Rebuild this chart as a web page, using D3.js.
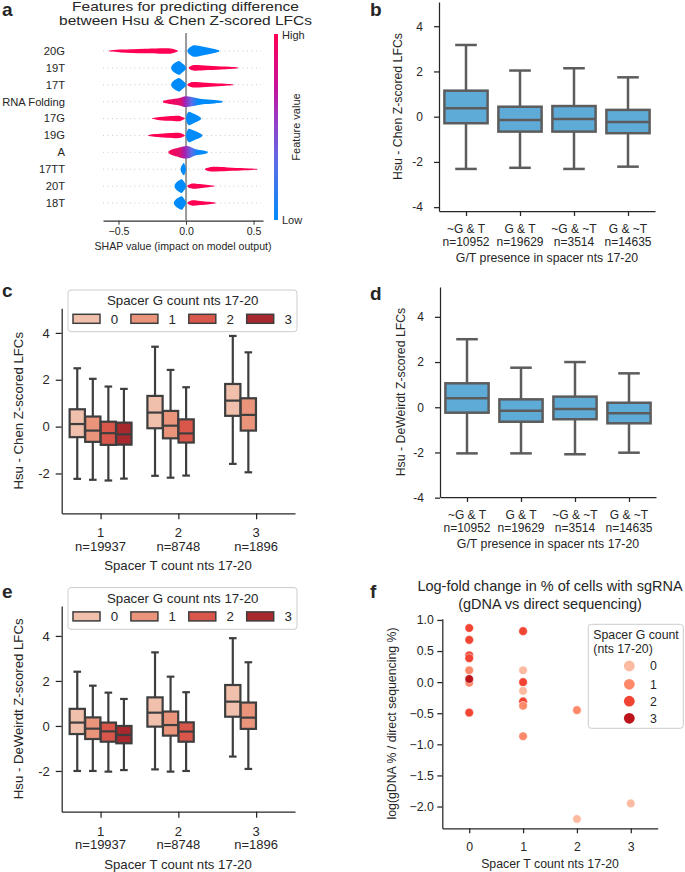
<!DOCTYPE html>
<html><head><meta charset="utf-8">
<script src="https://cdn.jsdelivr.net/npm/d3@7"></script>
<style>
body{margin:0;background:#fff}
svg{display:block}
text{font-family:"Liberation Sans",Arial,Helvetica,sans-serif;fill:#262626}
</style>
</head><body>
<svg id="fig" width="685" height="872"></svg>
<script>
// ================= DATA =================
// Panel a: SHAP summary (per feature: extent of high-value (red) and low-value (blue) clusters)
const shapFeatures = ["20G","19T","17T","RNA Folding","17G","19G","A","17TT","20T","18T"];
const highLo   = [-0.57, 0.02, 0.01, -0.17, -0.25, -0.28, -0.13, 0.14, 0.01, 0.01];
const highPeak = [-0.12, 0.06, 0.05, -0.04, -0.05, -0.05, -0.05, 0.20, 0.05, 0.05];
const highHi   = [-0.06, 0.385, 0.35, 0.01, -0.01, -0.01, 0.00, 0.53, 0.21, 0.22];
const highDens = [0.42, 0.42, 0.40, 0.55, 0.40, 0.40, 0.75, 0.35, 0.40, 0.40];
const lowLo    = [0.01, -0.11, -0.11, -0.03, 0.00, 0.00, -0.02, -0.04, -0.085, -0.09];
const lowPeak  = [0.06, -0.05, -0.05, 0.02, 0.02, 0.02, 0.02, -0.015, -0.03, -0.03];
const lowHi    = [0.245, 0.00, 0.00, 0.27, 0.11, 0.12, 0.16, 0.00, 0.00, 0.00];
const lowDens  = [0.85, 1.0, 1.0, 0.8, 1.0, 1.0, 0.9, 0.9, 1.0, 1.0];
const mixedFeatures = ["RNA Folding","A"];
const shapTicks = [-0.5, 0, 0.5];

// Panel b: Hsu - Chen by G/T presence
const gtCats   = ["~G & T","G & T","~G & ~T","G & ~T"];
const gtCounts = ["n=10952","n=19629","n=3514","n=14635"];
const bLo  = [-2.31, -2.26, -2.31, -2.21];
const bQ1  = [-0.29, -0.66, -0.66, -0.73];
const bMed = [0.37, -0.15, -0.10, -0.23];
const bQ3  = [1.15, 0.44, 0.47, 0.30];
const bHi  = [3.17, 2.04, 2.14, 1.74];

// Panel d: Hsu - DeWeirdt by G/T presence
const dLo  = [-2.04, -2.04, -2.08, -2.01];
const dQ1  = [-0.24, -0.64, -0.53, -0.71];
const dMed = [0.40, -0.15, -0.08, -0.27];
const dQ3  = [1.06, 0.35, 0.47, 0.20];
const dHi  = [3.01, 1.75, 2.00, 1.50];

// Panels c & e: by T count (group) and G count (hue)
const tCats   = ["1","2","3"];
const tCounts = ["n=19937","n=8748","n=1896"];
const gLevels = ["0","1","2","3"];
const ceGroup = [0,0,0,0, 1,1,1, 2,2];
const ceHue   = [0,1,2,3, 0,1,2, 0,1];
const cLo  = [-2.23,-2.27,-2.30,-2.22, -2.10,-2.18,-2.09, -1.59,-1.95];
const cQ1  = [-0.45,-0.65,-0.78,-0.77, -0.07,-0.50,-0.68, 0.46,-0.17];
const cMed = [0.11,-0.17,-0.28,-0.33, 0.60,0.04,-0.29, 1.11,0.50];
const cQ3  = [0.74,0.43,0.21,0.17, 1.31,0.67,0.31, 1.82,1.21];
const cHi  = [2.49,2.04,1.71,1.61, 3.41,2.42,1.68, 3.87,3.17];
const eLo  = [-2.00,-2.00,-2.03,-1.96, -1.93,-2.03,-2.00, -1.36,-1.91];
const eQ1  = [-0.36,-0.58,-0.70,-0.77, -0.03,-0.43,-0.70, 0.41,-0.13];
const eMed = [0.15,-0.12,-0.24,-0.40, 0.59,0.04,-0.25, 1.08,0.37];
const eQ3  = [0.76,0.38,0.15,0.00, 1.27,0.64,0.16, 1.82,1.04];
const eHi  = [2.41,1.79,1.48,1.20, 3.27,2.19,1.50, 3.90,2.83];

// Panel f: scatter
const fT   = [0,0,0,0,0,0,0,0,  1,1,1,1,1,1,1,  2,2, 3];
const fG   = [2,2,2,2,1,1,3,2,  2,0,2,0,2,1,1,  1,0, 0];
const fVal = [0.87,0.68,0.43,0.385,0.19,-0.01,0.05,-0.49,
              0.82,0.19,0.00,-0.14,-0.31,-0.38,-0.87,
              -0.45,-2.20, -1.95];
const fTicksY = [-2.0,-1.5,-1.0,-0.5,0.0,0.5,1.0];
const fTicksX = [0,1,2,3];

// ================= STYLE =================
const INK = "#262626";
const SHAP_RED = "#ff0052", SHAP_BLUE = "#008bfb", SHAP_PURPLE = "#8c45cc";
const BLUE_BOX = "#5fabd8";
const REDS_BOX = ["#f1c0ac","#ea947c","#d9574a","#a7292e"];
const REDS_PT  = ["#fcbba1","#fc8a6a","#f14432","#bc141a"];
const GRAY_BD = "#5c5c5c", GRAY_CE = "#3e3e3e";

const svg = d3.select("#fig");
const defs = svg.append("defs");

function styleAxis(g, fs){
  g.attr("font-family",null).attr("font-size",null);
  g.select(".domain").attr("stroke",INK).attr("stroke-width",1.25);
  g.selectAll(".tick line").attr("stroke",INK).attr("stroke-width",1.25);
  g.selectAll(".tick text").attr("fill",INK).style("font-size",fs+"px");
}
const hy = d => d < 0 ? "-" + Math.abs(d) : String(d);

function panelLabel(t, x, y){
  svg.append("text").attr("x",x).attr("y",y).text(t)
    .style("font-size","19px").style("font-weight","bold").attr("fill","#000");
}

// ================= PANEL A =================
(function(){
  const g = svg.append("g");
  const xa = d3.scaleLinear().domain([-0.615, 0.57]).range([103, 263]);
  const ya = d3.scalePoint().domain(shapFeatures).range([51, 203]);
  const HMAX = 7.5;
  // title (horizontally stretched as in the source figure)
  g.append("text").attr("transform","translate(185.5,11.2) scale(1.25,1)").attr("text-anchor","middle")
    .style("font-size","12.4px").text("Features for predicting difference");
  g.append("text").attr("transform","translate(185.5,25.4) scale(1.25,1)").attr("text-anchor","middle")
    .style("font-size","12.4px").text("between Hsu & Chen Z-scored LFCs");
  // dotted row guides
  g.selectAll("line.guide").data(shapFeatures).join("line")
    .attr("x1",103).attr("x2",261).attr("y1",d=>ya(d)).attr("y2",d=>ya(d))
    .attr("stroke","#cccccc").attr("stroke-width",1).attr("stroke-dasharray","1,3.5");
  // zero line
  g.append("line").attr("x1",xa(0)).attr("x2",xa(0)).attr("y1",33).attr("y2",220)
    .attr("stroke","#999").attr("stroke-width",2);
  const area = d3.area().x(d=>xa(d[0])).curve(d3.curveBasis);
  function prof(lo, pk, hi){
    return [[lo,0.12],[lo+0.15*(pk-lo),0.45],[lo+0.6*(pk-lo),0.75],[pk,1],
            [pk+0.3*(hi-pk),0.7],[pk+0.75*(hi-pk),0.4],[hi,0.12]];
  }
  shapFeatures.forEach((f,i)=>{
    const cy = ya(f);
    if (mixedFeatures.includes(f)) {
      const gid = "mix"+i;
      const lg = defs.append("linearGradient").attr("id",gid)
        .attr("gradientUnits","userSpaceOnUse").attr("x1",xa(highLo[i])).attr("x2",xa(lowHi[i])).attr("y1",0).attr("y2",0);
      const span = lowHi[i]-highLo[i];
      const off = v => Math.max(0,Math.min(1,(v-highLo[i])/span));
      lg.append("stop").attr("offset",0).attr("stop-color",SHAP_RED);
      lg.append("stop").attr("offset",off(highPeak[i])).attr("stop-color","#e0106e");
      lg.append("stop").attr("offset",off((highHi[i]+lowLo[i])/2)).attr("stop-color","#a61fb0");
      lg.append("stop").attr("offset",off(lowPeak[i]+0.02)).attr("stop-color","#5a6ee8");
      lg.append("stop").attr("offset",off(lowPeak[i]+0.07)).attr("stop-color",SHAP_BLUE);
      lg.append("stop").attr("offset",1).attr("stop-color",SHAP_BLUE);
      const pk = (highHi[i]+lowLo[i])/2;
      const pts = [[highLo[i],0.12*HMAX],[highLo[i]+0.3*(highPeak[i]-highLo[i]),highDens[i]*0.55*HMAX],
        [highPeak[i],highDens[i]*0.85*HMAX],[pk,Math.max(highDens[i],lowDens[i])*HMAX],
        [lowPeak[i]+0.02,lowDens[i]*0.8*HMAX],[lowPeak[i]+0.35*(lowHi[i]-lowPeak[i]),lowDens[i]*0.4*HMAX],
        [lowPeak[i]+0.8*(lowHi[i]-lowPeak[i]),0.25*HMAX],[lowHi[i],0.1*HMAX]];
      g.append("path").attr("d",area.y0(d=>cy-d[1]).y1(d=>cy+d[1])(pts)).attr("fill",`url(#${gid})`);
    } else {
      const hp = prof(highLo[i],highPeak[i],highHi[i]);
      g.append("path").attr("d",area.y0(d=>cy-d[1]*highDens[i]*HMAX).y1(d=>cy+d[1]*highDens[i]*HMAX)(hp))
        .attr("fill",SHAP_RED);
      const lp = prof(lowLo[i],lowPeak[i],lowHi[i]);
      g.append("path").attr("d",area.y0(d=>cy-d[1]*lowDens[i]*HMAX).y1(d=>cy+d[1]*lowDens[i]*HMAX)(lp))
        .attr("fill",SHAP_BLUE);
    }
  });
  // feature labels
  g.selectAll("text.feat").data(shapFeatures).join("text")
    .attr("x",65).attr("y",d=>ya(d)).attr("dy","0.35em").attr("text-anchor","end")
    .style("font-size","11.2px").attr("fill","#333").text(d=>d);
  // x axis
  const ax = g.append("g").attr("transform","translate(0,220.7)")
    .call(d3.axisBottom(xa).tickValues(shapTicks).tickFormat(d3.format(".1f")).tickSize(4).tickPadding(3).tickSizeOuter(0));
  ax.attr("font-family",null).attr("font-size",null);
  ax.select(".domain").attr("stroke","#333").attr("stroke-width",1.2);
  ax.selectAll(".tick line").attr("stroke","#333");
  ax.selectAll(".tick text").style("font-size","10.6px").attr("fill","#333");
  g.append("text").attr("x",183).attr("y",250).attr("text-anchor","middle")
    .style("font-size","10.6px").attr("fill","#333").text("SHAP value (impact on model output)");
  // colorbar
  const cg = defs.append("linearGradient").attr("id","cbar").attr("x1",0).attr("x2",0).attr("y1",1).attr("y2",0);
  [[0,SHAP_BLUE],[0.3,"#5a6ee8"],[0.5,SHAP_PURPLE],[0.72,"#c8109a"],[1,SHAP_RED]].forEach(s=>
    cg.append("stop").attr("offset",s[0]).attr("stop-color",s[1]));
  g.append("rect").attr("x",274).attr("y",34).attr("width",4).attr("height",186).attr("fill","url(#cbar)");
  g.append("text").attr("x",282).attr("y",39).style("font-size","11px").attr("fill","#333").text("High");
  g.append("text").attr("x",282).attr("y",224).style("font-size","11px").attr("fill","#333").text("Low");
  g.append("text").attr("transform","translate(296,127) rotate(-90)").attr("text-anchor","middle")
    .attr("dy","0.35em").style("font-size","11px").attr("fill","#333").text("Feature value");
})();
panelLabel("a", 2, 16);

// ================= BOX HELPERS =================
function drawBoxes(g, x, y, recs, w, stroke, lw){
  const s = g.selectAll(null).data(recs).join("g");
  s.append("line").attr("x1",d=>x(d.pos)).attr("x2",d=>x(d.pos)).attr("y1",d=>y(d.q1)).attr("y2",d=>y(d.lo))
    .attr("stroke",stroke).attr("stroke-width",lw);
  s.append("line").attr("x1",d=>x(d.pos)).attr("x2",d=>x(d.pos)).attr("y1",d=>y(d.q3)).attr("y2",d=>y(d.hi))
    .attr("stroke",stroke).attr("stroke-width",lw);
  s.append("line").attr("x1",d=>x(d.pos-w/4)).attr("x2",d=>x(d.pos+w/4)).attr("y1",d=>y(d.lo)).attr("y2",d=>y(d.lo))
    .attr("stroke",stroke).attr("stroke-width",lw);
  s.append("line").attr("x1",d=>x(d.pos-w/4)).attr("x2",d=>x(d.pos+w/4)).attr("y1",d=>y(d.hi)).attr("y2",d=>y(d.hi))
    .attr("stroke",stroke).attr("stroke-width",lw);
  s.append("rect").attr("x",d=>x(d.pos-w/2)).attr("width",d=>x(d.pos+w/2)-x(d.pos-w/2))
    .attr("y",d=>y(d.q3)).attr("height",d=>y(d.q1)-y(d.q3))
    .attr("fill",d=>d.color).attr("stroke",stroke).attr("stroke-width",lw);
  s.append("line").attr("x1",d=>x(d.pos-w/2)).attr("x2",d=>x(d.pos+w/2)).attr("y1",d=>y(d.med)).attr("y2",d=>y(d.med))
    .attr("stroke",stroke).attr("stroke-width",lw);
}

function gtPanel(cfg){
  const g = svg.append("g");
  const x = d3.scaleLinear().domain([-0.5,3.5]).range([cfg.x0, cfg.x1]);
  const y = d3.scaleLinear().domain(cfg.ydom).range([cfg.yb, cfg.yt]);
  const recs = gtCats.map((c,i)=>({pos:i, lo:cfg.lo[i], q1:cfg.q1[i], med:cfg.med[i], q3:cfg.q3[i], hi:cfg.hi[i], color:BLUE_BOX}));
  drawBoxes(g, x, y, recs, 0.8, GRAY_BD, 2.5);
  const ya = g.append("g").attr("transform",`translate(${cfg.x0},0)`)
    .call(d3.axisLeft(y).tickValues([-4,-2,0,2,4]).tickFormat(hy).tickSize(5).tickPadding(11).tickSizeOuter(0));
  styleAxis(ya, 12);
  const xa = g.append("g").attr("transform",`translate(0,${cfg.yb})`)
    .call(d3.axisBottom(x).tickValues([0,1,2,3]).tickFormat("").tickSize(5).tickSizeOuter(0));
  styleAxis(xa, 12);
  gtCats.forEach((c,i)=>{
    g.append("text").attr("x",x(i)).attr("y",cfg.yb+22).attr("text-anchor","middle").style("font-size","12px").text(c);
    g.append("text").attr("x",x(i)).attr("y",cfg.yb+35).attr("text-anchor","middle").style("font-size","12px").text(gtCounts[i]);
  });
  g.append("text").attr("x",(cfg.x0+cfg.x1)/2).attr("y",cfg.yb+51).attr("text-anchor","middle")
    .style("font-size","12.3px").text("G/T presence in spacer nts 17-20");
  g.append("text").attr("transform",`translate(${cfg.ylx},${(cfg.yb+cfg.yt)/2}) rotate(-90)`)
    .attr("text-anchor","middle").attr("dy","0.35em").style("font-size","12.3px").text(cfg.ylabel);
}

gtPanel({x0:439, x1:655, yb:211, yt:2, ydom:[-4.17,5.07], lo:bLo,q1:bQ1,med:bMed,q3:bQ3,hi:bHi,
  ylx:398, ylabel:"Hsu - Chen Z-scored LFCs"});
gtPanel({x0:440, x1:656, yb:497, yt:287, ydom:[-3.97,5.32], lo:dLo,q1:dQ1,med:dMed,q3:dQ3,hi:dHi,
  ylx:400.5, ylabel:"Hsu - DeWeirdt Z-scored LFCs"});
panelLabel("b", 370, 16);
panelLabel("d", 370, 300);

function tgPanel(cfg){
  const g = svg.append("g");
  const x = d3.scaleLinear().domain([-0.5,2.5]).range([61.7, 295]);
  const y = d3.scaleLinear().domain(cfg.ydom).range([cfg.yb, cfg.yt]);
  const w = 0.196;
  const recs = ceGroup.map((gi,k)=>({pos: gi + (ceHue[k]-1.5)*0.2, lo:cfg.lo[k], q1:cfg.q1[k], med:cfg.med[k],
    q3:cfg.q3[k], hi:cfg.hi[k], color:REDS_BOX[ceHue[k]]}));
  drawBoxes(g, x, y, recs, w, GRAY_CE, 2.2);
  const ya = g.append("g").attr("transform",`translate(61.7,0)`)
    .call(d3.axisLeft(y).tickValues([-2,0,2,4]).tickFormat(hy).tickSize(6).tickPadding(6).tickSizeOuter(0));
  styleAxis(ya, 13);
  const xa = g.append("g").attr("transform",`translate(0,${cfg.yb})`)
    .call(d3.axisBottom(x).tickValues([0,1,2]).tickFormat("").tickSize(6).tickSizeOuter(0));
  styleAxis(xa, 13);
  tCats.forEach((c,i)=>{
    g.append("text").attr("x",x(i)).attr("y",cfg.yb+24).attr("text-anchor","middle").style("font-size","13px").text(c);
    g.append("text").attr("x",x(i)).attr("y",cfg.yb+37.5).attr("text-anchor","middle").style("font-size","13px").text(tCounts[i]);
  });
  g.append("text").attr("x",178).attr("y",cfg.yb+57).attr("text-anchor","middle")
    .style("font-size","13.2px").text("Spacer T count nts 17-20");
  g.append("text").attr("transform",`translate(18,${(cfg.yb+cfg.yt)/2}) rotate(-90)`)
    .attr("text-anchor","middle").attr("dy","0.35em").style("font-size","13.2px").text(cfg.ylabel);
  // legend
  const L = cfg.leg;
  g.append("rect").attr("x",68).attr("y",L).attr("width",229).attr("height",41.7).attr("rx",3)
    .attr("fill","#fff").attr("fill-opacity",0.8).attr("stroke","#cccccc").attr("stroke-width",1);
  g.append("text").attr("x",182.7).attr("y",L+15.3).attr("text-anchor","middle").style("font-size","13.3px")
    .text("Spacer G count nts 17-20");
  gLevels.forEach((lv,i)=>{
    const px = 73 + i*57.9;
    g.append("rect").attr("x",px).attr("y",L+24.3).attr("width",27).attr("height",9)
      .attr("fill",REDS_BOX[i]).attr("stroke",GRAY_CE).attr("stroke-width",1.5);
    g.append("text").attr("x",px+37.7).attr("y",L+33.5).style("font-size","13.3px").text(lv);
  });
}
tgPanel({yb:513.3, yt:308.3, ydom:[-3.70,5.05], lo:cLo,q1:cQ1,med:cMed,q3:cQ3,hi:cHi,
  ylabel:"Hsu - Chen Z-scored LFCs", leg:290});
tgPanel({yb:811.7, yt:606, ydom:[-3.81,5.33], lo:eLo,q1:eQ1,med:eMed,q3:eQ3,hi:eHi,
  ylabel:"Hsu - DeWeirdt Z-scored LFCs", leg:587.6});
panelLabel("c", 2, 297);
panelLabel("e", 2, 598);

// ================= PANEL F =================
(function(){
  const g = svg.append("g");
  const x = d3.scaleLinear().domain([-0.5,3.5]).range([442.3, 657.7]);
  const y = d3.scaleLinear().domain([-2.35,1.02]).range([828.3, 618.7]);
  const tt = g.append("text").attr("text-anchor","middle").style("font-size","14.5px");
  tt.append("tspan").attr("x",550).attr("y",591).text("Log-fold change in % of cells with sgRNA");
  tt.append("tspan").attr("x",550).attr("y",608.5).text("(gDNA vs direct sequencing)");
  const ya = g.append("g").attr("transform","translate(442.3,0)")
    .call(d3.axisLeft(y).tickValues(fTicksY).tickFormat(d3.format(".1f")).tickSize(5).tickPadding(3.5).tickSizeOuter(0));
  styleAxis(ya, 12.3);
  const xa = g.append("g").attr("transform","translate(0,828.3)")
    .call(d3.axisBottom(x).tickValues(fTicksX).tickFormat(d3.format("d")).tickSize(5).tickPadding(9).tickSizeOuter(0));
  styleAxis(xa, 12.3);
  g.selectAll("circle.pt").data(fVal.map((v,i)=>({t:fT[i],g:fG[i],v}))).join("circle")
    .attr("cx",d=>x(d.t)).attr("cy",d=>y(d.v)).attr("r",4.3).attr("fill",d=>REDS_PT[d.g])
    .attr("stroke","#fff").attr("stroke-width",0.5);
  g.append("text").attr("x",550).attr("y",868).attr("text-anchor","middle").style("font-size","12.3px")
    .text("Spacer T count nts 17-20");
  g.append("text").attr("transform","translate(391.7,723.5) rotate(-90)").attr("text-anchor","middle")
    .attr("dy","0.35em").style("font-size","12.3px").text("log(gDNA % / direct sequencing %)");
  // legend
  g.append("rect").attr("x",588.3).attr("y",624.3).attr("width",95).attr("height",104).attr("rx",3)
    .attr("fill","#fff").attr("fill-opacity",0.8).attr("stroke","#cccccc");
  g.append("text").attr("x",593.3).attr("y",639.3).style("font-size","12.3px").text("Spacer G count");
  g.append("text").attr("x",593.3).attr("y",652.6).style("font-size","12.3px").text("(nts 17-20)");
  const ly = [666, 684.3, 701.2, 718.3];
  gLevels.forEach((lv,i)=>{
    g.append("circle").attr("cx",629.3).attr("cy",ly[i]).attr("r",5.4).attr("fill",REDS_PT[i]);
    g.append("text").attr("x",650).attr("y",ly[i]).attr("dy","0.35em").style("font-size","12.3px").text(lv);
  });
})();
panelLabel("f", 370, 598);
</script>
</body></html>
